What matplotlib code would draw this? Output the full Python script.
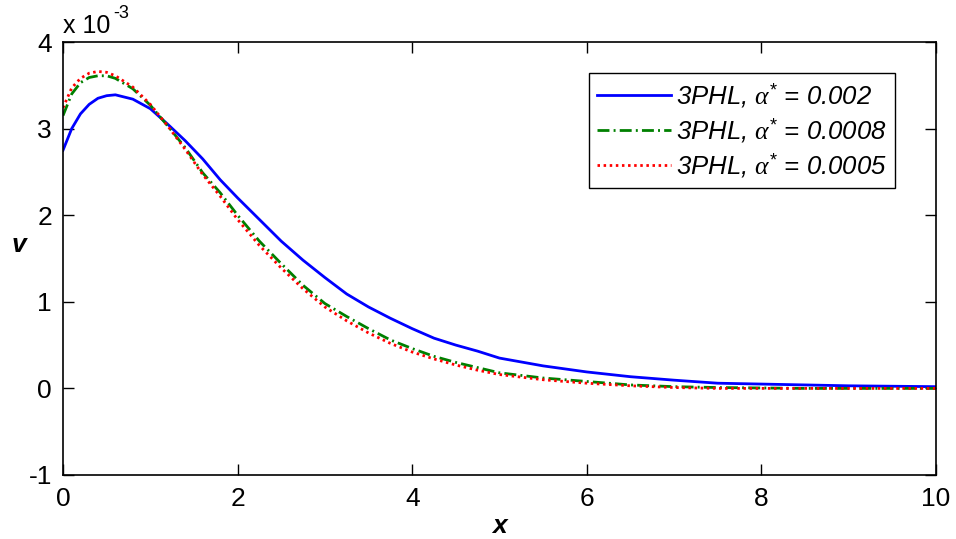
import matplotlib
matplotlib.use("Agg")
import matplotlib.pyplot as plt
import numpy as np

# ---- data (values in units of 1e-3) ----
x_vals = [0, 0.1, 0.2, 0.3, 0.4, 0.5, 0.6, 0.8, 1.0, 1.2, 1.4, 1.6, 1.8, 2.0,
          2.25, 2.5, 2.75, 3.0, 3.25, 3.5, 3.75, 4.0, 4.25, 4.5, 4.75, 5.0,
          5.5, 6.0, 6.5, 7.0, 7.5, 8.0, 8.5, 9.0, 9.5, 10.0]
v_a002 = [2.75, 3.00, 3.17, 3.28, 3.35, 3.38, 3.39, 3.34, 3.23, 3.05, 2.86, 2.65, 2.41, 2.20,
          1.95, 1.70, 1.48, 1.28, 1.09, 0.94, 0.81, 0.69, 0.58, 0.50, 0.43, 0.35,
          0.26, 0.19, 0.135, 0.095, 0.06, 0.05, 0.04, 0.03, 0.025, 0.02]
v_a0008 = [3.15, 3.40, 3.53, 3.59, 3.61, 3.61, 3.58, 3.46, 3.27, 3.03, 2.78, 2.49, 2.26, 2.00,
           1.70, 1.44, 1.19, 0.98, 0.83, 0.69, 0.56, 0.46, 0.37, 0.30, 0.24, 0.18,
           0.12, 0.08, 0.04, 0.02, 0.01, 0.005, 0.0, 0.0, 0.0, 0.0]
v_a0005 = [3.24, 3.47, 3.58, 3.64, 3.66, 3.65, 3.61, 3.48, 3.28, 3.03, 2.76, 2.47, 2.22, 1.95,
           1.65, 1.39, 1.15, 0.94, 0.78, 0.64, 0.52, 0.42, 0.34, 0.27, 0.21, 0.16,
           0.10, 0.06, 0.03, 0.01, 0.0, 0.0, 0.0, 0.0, 0.0, 0.0]
labels = [r"3PHL, $\alpha^{*}$ = 0.002",
          r"3PHL, $\alpha^{*}$ = 0.0008",
          r"3PHL, $\alpha^{*}$ = 0.0005"]
xticks = [0, 2, 4, 6, 8, 10]
yticks = [-1, 0, 1, 2, 3, 4]

plt.rcParams['font.family'] = ['Liberation Sans', 'DejaVu Sans']
plt.rcParams['mathtext.fontset'] = 'custom'
plt.rcParams['mathtext.rm'] = 'Liberation Sans'
plt.rcParams['mathtext.it'] = 'Liberation Serif:italic'

W, H = 956, 539
fig = plt.figure(figsize=(W/100, H/100), dpi=100)
ax = fig.add_axes([63/W, 1-475/H, (936-63)/W, (475-42)/H])

ax.plot(x_vals, v_a002, color=(0, 0, 1), lw=2, label=labels[0])
ax.plot(x_vals, v_a0008, color=(0, 0.5, 0), lw=2, linestyle=(0, (4.3, 1.5, 0.7, 1.5)), label=labels[1])
ax.plot(x_vals, v_a0005, color=(1, 0, 0), lw=2, linestyle=(0, (0.9, 1.3)), label=labels[2])

ax.set_xlim(0, 10)
ax.set_ylim(-1, 4)
ax.set_xticks(xticks)
ax.set_yticks(yticks)
ax.set_xticklabels([str(t) for t in xticks])
ax.set_yticklabels([str(t) for t in yticks])
ax.tick_params(direction='in', length=8, width=1, top=True, right=True, labelsize=19)
ax.tick_params(axis='x', pad=9)
ax.tick_params(axis='y', pad=8)
for s in ax.spines.values():
    s.set_linewidth(1.2)

fig.text(499/W, 1-533/H, 'x', fontsize=19, fontweight='bold', style='italic', ha='center', va='baseline')
fig.text(18.5/W, 1-252/H, 'v', fontsize=19, fontweight='bold', style='italic', ha='center', va='baseline')

fig.text(63/W, 1-33/H, "x 10", fontsize=18, ha='left', va='baseline')
fig.text(113/W, 1-18/H, "-3", fontsize=13, ha='left', va='baseline')

leg = ax.legend(loc='upper right', bbox_to_anchor=(895/W, 1-73/H), bbox_transform=fig.transFigure,
                fontsize=18.5, frameon=True, fancybox=False, edgecolor='black', framealpha=1,
                handlelength=2.9, handletextpad=0.2, borderpad=0.3, labelspacing=0.25,
                borderaxespad=0)
leg.get_frame().set_linewidth(1.0)
for t in leg.get_texts():
    t.set_fontstyle('italic')

fig.savefig('out.png', dpi=100)
